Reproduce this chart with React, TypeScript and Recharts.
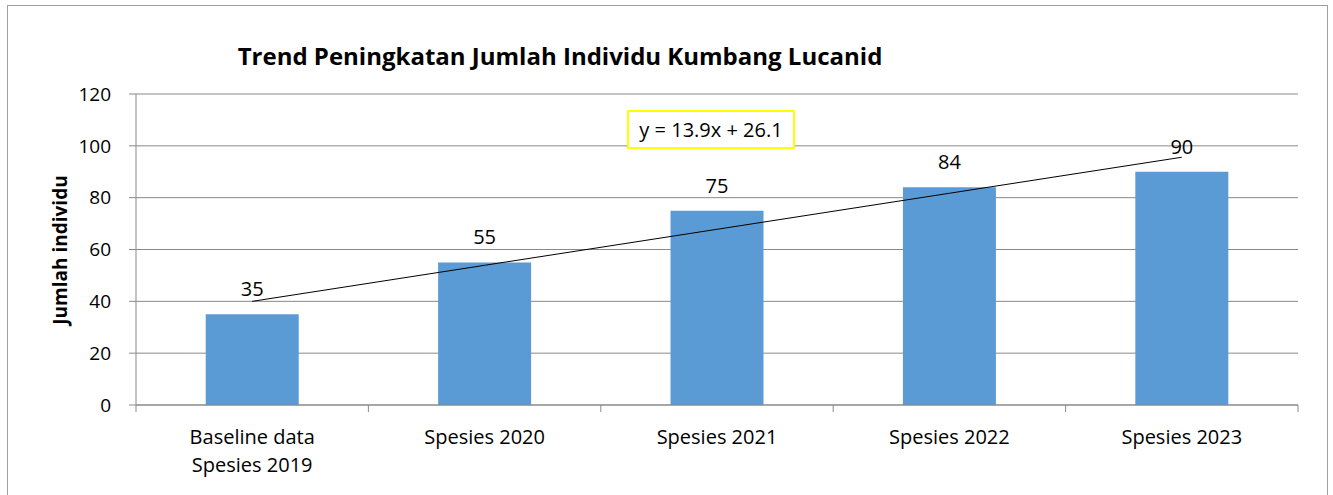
import React from "react";
import { ComposedChart, Bar, Line, XAxis, YAxis, CartesianGrid, LabelList } from "recharts";

const categories = ["Baseline data\nSpesies 2019", "Spesies 2020", "Spesies 2021", "Spesies 2022", "Spesies 2023"];
const individuals = [35, 55, 75, 84, 90];
const trendSlope = 13.9;
const trendIntercept = 26.1;
const yTicks = [0, 20, 40, 60, 80, 100, 120];
const title = "Trend Peningkatan Jumlah Individu Kumbang Lucanid";
const yLabel = "Jumlah individu";
const equation = "y = 13.9x + 26.1";

const data = categories.map((c, i) => ({
  name: c,
  value: individuals[i],
  trend: trendSlope * (i + 1) + trendIntercept,
}));

const W = 1333;
const H = 495;
const XH = 90;
const M = { top: 94, right: 35, bottom: 0, left: 0 };
const YW = 136;
const plotW = W - M.left - M.right - YW;
const plotBottom = H - M.bottom - XH;
const band = plotW / categories.length;
const FONT = "'Open Sans', 'Noto Sans', sans-serif";

const XTick = (props: any) => {
  const { x, payload, index } = props;
  const lines = String(payload.value).split("\n");
  return (
    <g>
      <line x1={x - band / 2} x2={x - band / 2} y1={plotBottom} y2={plotBottom + 7} stroke="#898989" />
      {index === categories.length - 1 && (
        <line x1={x + band / 2} x2={x + band / 2} y1={plotBottom} y2={plotBottom + 7} stroke="#898989" />
      )}
      {lines.map((l, i) => (
        <text key={i} x={x} y={plotBottom + 39 + i * 28} textAnchor="middle" fontSize={20} fill="#000" fontFamily={FONT}>
          {l}
        </text>
      ))}
    </g>
  );
};

export default function App() {
  return (
    <div style={{ position: "absolute", left: 0, top: 0, width: W, height: H, background: "#fff", overflow: "hidden" }}>
      <div style={{ position: "absolute", left: 7, top: 5, width: 1319, height: H, borderLeft: "1px solid #a0a0a0", borderTop: "1px solid #a0a0a0", borderRight: "1px solid #a0a0a0" }} />
      <div style={{ position: "absolute", left: 0, width: 1120, top: 40, textAlign: "center", fontFamily: FONT, fontWeight: 700, fontSize: 24, lineHeight: "32px", color: "#000" }}>
        {title}
      </div>
      <div style={{ position: "absolute", left: 60, top: 250, transform: "translate(-50%, -50%) rotate(-90deg)", whiteSpace: "nowrap", fontFamily: FONT, fontWeight: 700, fontSize: 19, color: "#000" }}>
        {yLabel}
      </div>
      <div style={{ position: "absolute", left: 0, top: 0 }}>
        <ComposedChart width={W} height={H} data={data} margin={M} barCategoryGap="30%">
          <CartesianGrid vertical={false} stroke="#898989" />
          <XAxis dataKey="name" tick={<XTick />} tickLine={false} axisLine={{ stroke: "#898989" }} interval={0} height={XH} />
          <YAxis
            domain={[0, 120]}
            ticks={yTicks}
            width={YW}
            tickSize={7}
            tickMargin={18}
            tick={{ fontSize: 19, fill: "#000", fontFamily: FONT }}
            tickLine={{ stroke: "#898989" }}
            axisLine={{ stroke: "#898989" }}
          />
          <Bar dataKey="value" fill="#5B9BD5" isAnimationActive={false}>
            <LabelList dataKey="value" position="top" offset={18} fill="#000" fontSize={20} fontFamily={FONT} />
          </Bar>
          <Line dataKey="trend" stroke="#000" strokeWidth={1} dot={false} isAnimationActive={false} />
        </ComposedChart>
      </div>
      <div style={{ position: "absolute", left: 627, top: 110, width: 164, height: 35, border: "2px solid #FFFF00", display: "flex", alignItems: "center", justifyContent: "center", fontFamily: FONT, fontSize: 20, color: "#000", background: "#fff" }}>
        {equation}
      </div>
    </div>
  );
}
